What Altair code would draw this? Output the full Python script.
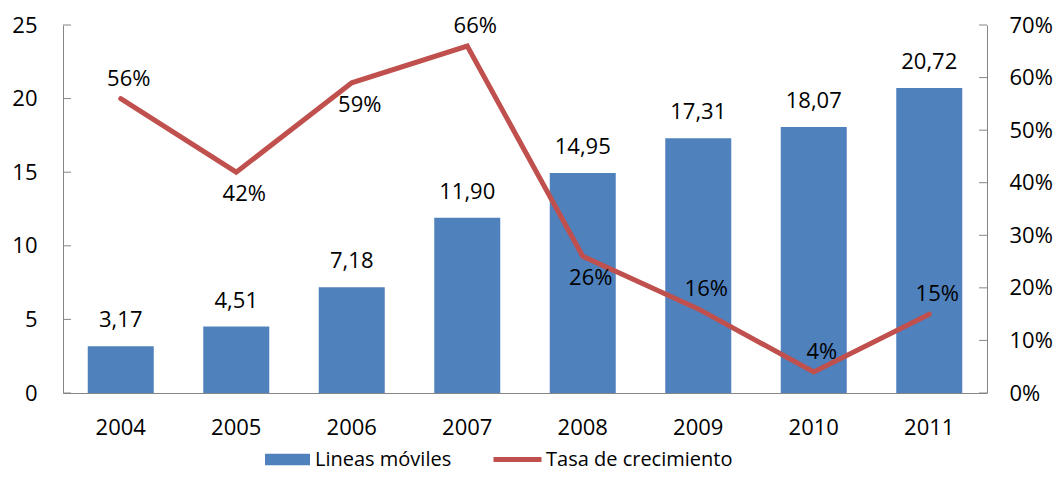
import altair as alt
import pandas as pd

years = ["2004", "2005", "2006", "2007", "2008", "2009", "2010", "2011"]
lineas = [3.17, 4.51, 7.18, 11.90, 14.95, 17.31, 18.07, 20.72]
tasa = [0.56, 0.42, 0.59, 0.66, 0.26, 0.16, 0.04, 0.15]
left_ticks = [0, 5, 10, 15, 20, 25]
right_ticks = [0, 0.1, 0.2, 0.3, 0.4, 0.5, 0.6, 0.7]
above_years = ["2004", "2007", "2009", "2010", "2011"]
bar_name = "Lineas móviles"
line_name = "Tasa de crecimiento"

df = pd.DataFrame({"year": years, "lineas": lineas, "tasa": tasa})
df_lt = pd.DataFrame({"t": left_ticks})
df_rt = pd.DataFrame({"t": right_ticks})

FONT = "Open Sans"
FS = 22
LFS = 20
GRAY = "#868686"
BLUE = "#4F81BD"
RED = "#C0504D"
W, H = 924, 368

x_axis = alt.Axis(title=None, labelAngle=0, labelFont=FONT, labelFontSize=FS,
                  labelColor="black", domainColor=GRAY, ticks=False, tickSize=0,
                  labelPadding=24, grid=False)
x_enc = alt.X("year:N", sort=years,
              scale=alt.Scale(paddingInner=0.43, paddingOuter=0.215), axis=x_axis)

left_axis = alt.Axis(title=None, orient="left", values=left_ticks, labelFont=FONT,
                     labelFontSize=FS, labelColor="black", domainColor=GRAY,
                     ticks=False, tickSize=0, labelPadding=26, grid=False)
right_axis = alt.Axis(title=None, orient="right", values=right_ticks, format=".0%",
                      labelFont=FONT, labelFontSize=FS, labelColor="black",
                      domainColor=GRAY, ticks=False, tickSize=0, labelPadding=22,
                      grid=False)
yl_scale = alt.Scale(domain=[0, 25], nice=False)
yr_scale = alt.Scale(domain=[0, 0.7], nice=False)

base = alt.Chart(df)

bars = base.transform_calculate(serie=f"'{bar_name}'").mark_bar(size=66).encode(
    x=x_enc,
    y=alt.Y("lineas:Q", scale=yl_scale, axis=left_axis),
    color=alt.Color("serie:N", scale=alt.Scale(domain=[bar_name], range=[BLUE]),
                    legend=alt.Legend(title=None, orient="none", legendX=202, legendY=412,
                                      symbolType="M-1,-0.26H1V0.26H-1Z", symbolSize=2025,
                                      symbolStrokeWidth=0, labelFont=FONT,
                                      labelFontSize=LFS, labelColor="black",
                                      labelOffset=5, labelLimit=400, padding=0)),
)
bar_labels = base.transform_calculate(
    lbl="replace(format(datum.lineas, '.2f'), '.', ',')"
).mark_text(dy=-26, baseline="middle", font=FONT, fontSize=FS, color="black").encode(
    x=x_enc,
    y=alt.Y("lineas:Q", scale=yl_scale, axis=left_axis),
    text="lbl:N",
)
lticks = alt.Chart(df_lt).mark_rule(color=GRAY, strokeWidth=1).encode(
    y=alt.Y("t:Q", scale=yl_scale, axis=left_axis),
    x=alt.value(0), x2=alt.value(8),
)
left = alt.layer(bars, bar_labels, lticks)

line = base.transform_calculate(serie2=f"'{line_name}'").mark_line(
    strokeWidth=5, strokeCap="round").encode(
    x=x_enc,
    y=alt.Y("tasa:Q", scale=yr_scale, axis=right_axis),
    stroke=alt.Stroke("serie2:N", scale=alt.Scale(domain=[line_name], range=[RED]),
                      legend=alt.Legend(title=None, orient="none", legendX=428, legendY=408,
                                        symbolType="stroke", symbolSize=2304,
                                        symbolStrokeWidth=5, labelFont=FONT,
                                        labelFontSize=LFS, labelColor="black",
                                        labelOffset=2, labelLimit=400, padding=0)),
)
above = base.transform_filter(
    alt.FieldOneOfPredicate(field="year", oneOf=above_years)
).mark_text(dy=-20, dx=8, baseline="middle", font=FONT, fontSize=FS, color="black").encode(
    x=x_enc,
    y=alt.Y("tasa:Q", scale=yr_scale, axis=right_axis),
    text=alt.Text("tasa:Q", format=".0%"),
)
below = base.transform_filter(
    {"not": alt.FieldOneOfPredicate(field="year", oneOf=above_years)}
).mark_text(dy=22, dx=8, baseline="middle", font=FONT, fontSize=FS, color="black").encode(
    x=x_enc,
    y=alt.Y("tasa:Q", scale=yr_scale, axis=right_axis),
    text=alt.Text("tasa:Q", format=".0%"),
)
rticks = alt.Chart(df_rt).mark_rule(color=GRAY, strokeWidth=1).encode(
    y=alt.Y("t:Q", scale=yr_scale, axis=right_axis),
    x=alt.value(W - 8), x2=alt.value(W),
)
right = alt.layer(line, above, below, rticks)

chart = alt.layer(left, right).resolve_scale(y="independent").properties(
    width=W, height=H,
    padding={"left": 55, "top": 17, "right": 66, "bottom": 76},
    autosize=alt.AutoSizeParams(type="none"),
).configure_view(stroke=None)

chart.save("out.html", embed_options={"renderer": "svg", "actions": False})
